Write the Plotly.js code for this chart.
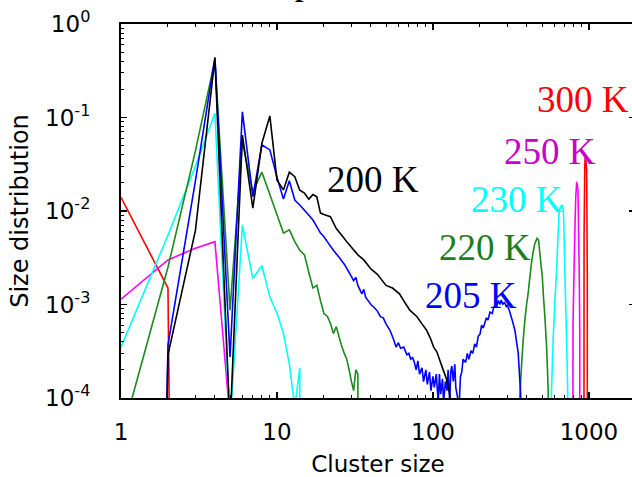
<!DOCTYPE html>
<html>
<head>
<meta charset="utf-8">
<script src="https://cdn.plot.ly/plotly-3.0.1.min.js"></script>
<style>
html, body { margin: 0; padding: 0; overflow: hidden; background: #fff; }
#chart { width: 640px; height: 477px; }
</style>
</head>
<body>
<div id="chart"></div>
<script>
// value used where the distribution is empty (0) – drawn far below the axis
const ZERO = 1e-30;

// ---- 200 K (black) ----
const s200 = [1, 2, 3, 4, 5, 6, 7, 8, 9, 10,
  11, 12, 13, 14, 15, 16, 17, 18, 19, 20,
  22, 24, 26, 28, 30, 33, 36, 40, 44, 50,
  55, 61, 66, 71, 79, 85, 91, 96, 101, 106,
  110, 115, 122, 128, 132, 136];
const v200 = [ZERO, 2.9e-4, 6.2e-3, 0.43, 5e-5, 0.065, 0.0107, 0.053, 0.104, 0.0214,
  0.0168, 0.026, 0.0233, 0.0167, 0.0155, 0.0134, 0.015, 0.0142, 0.0095, 0.0092,
  0.0087, 0.0065, 0.0055, 0.0047, 0.0041, 0.0034, 0.0030, 0.0024, 0.0021, 0.0016,
  0.0015, 0.0013, 0.00105, 8.7e-4, 7.4e-4, 6.2e-4, 5.3e-4, 4.4e-4, 3.5e-4, 3.1e-4,
  2.6e-4, 2.1e-4, 1.6e-4, 1.1e-4, 8e-5, ZERO];

// ---- 205 K (blue) ----
const s205 = [1, 2, 3, 4, 5, 6, 7, 8, 9, 10,
  11, 12, 13, 14, 15, 16, 17, 18, 19, 20,
  21, 23, 25, 27, 29, 31, 32, 33, 35, 36,
  37, 40, 42, 44, 46, 48, 50, 53, 56, 58,
  60, 62, 65, 68, 70, 72, 74, 76, 78, 80,
  82, 85, 87, 90, 92, 95, 97, 100, 102, 105,
  108, 110, 112, 115, 117, 120, 123, 125, 128, 130,
  132, 135, 138, 140, 144, 147, 150, 153, 156, 162,
  166, 170, 175, 180, 185, 190, 195, 200, 205, 210,
  220, 225, 232, 240, 245, 255, 262, 268, 274, 280,
  287, 295, 300, 310, 322, 335, 345, 352, 359, 365,
  372];
const v205 = [ZERO, 3.7e-4, 0.021, 0.44, 2.75e-4, 0.115, 0.0142, 0.051, 0.045, 0.023,
  0.0134, 0.021, 0.0131, 0.0116, 0.0102, 0.009, 0.008, 0.0068, 0.0058, 0.0053,
  0.0047, 0.0038, 0.0032, 0.0027, 0.0022, 0.0018, 0.00195, 0.0016, 0.0013, 0.00145,
  0.0012, 0.0010, 9.3e-4, 8.5e-4, 7.4e-4, 7.2e-4, 6.2e-4, 5.3e-4, 4.2e-4, 3.5e-4,
  3.9e-4, 3.4e-4, 3.5e-4, 2.9e-4, 3.0e-4, 2.6e-4, 2.7e-4, 2.4e-4, 2.0e-4, 2.5e-4,
  1.8e-4, 2.1e-4, 1.5e-4, 2.0e-4, 1.4e-4, 1.9e-4, 1.2e-4, 1.7e-4, 1.3e-4, 1.8e-4,
  9e-5, 1.8e-4, 1.1e-4, 1.6e-4, 9e-5, 1.5e-4, 1.2e-4, 2.0e-4, 9e-5, 1.9e-4,
  2.2e-4, 1.5e-4, 2.3e-4, 1.3e-4, 1.0e-4, 8e-5, 1.7e-4, 1.9e-4, 2.6e-4, 2.4e-4,
  3.0e-4, 2.6e-4, 3.2e-4, 3.0e-4, 3.8e-4, 3.5e-4, 4.6e-4, 4.8e-4, 6.0e-4, 5.6e-4,
  7.2e-4, 6.8e-4, 8.3e-4, 8.0e-4, 9.4e-4, 9.6e-4, 1.1e-3, 1.0e-3, 1.12e-3, 1.0e-3,
  1.06e-3, 9.5e-4, 9.8e-4, 8.4e-4, 6.8e-4, 5.3e-4, 3.8e-4, 3.0e-4, 1.7e-4, 1.1e-4,
  ZERO];

// ---- 220 K (green) ----
const s220 = [1, 2, 3, 4, 5, 6, 7, 8, 9, 10,
  11, 12, 13, 14, 15, 16, 17, 18, 19, 20,
  21, 22, 23, 24, 25, 26, 27, 28, 29, 30,
  31, 32, 33, 34, 350, 360, 368, 378, 388, 398,
  407, 417, 427, 438, 450, 465, 475, 482, 492, 502,
  511, 520, 535, 548, 560];
const v220 = [3.7e-5, 0.0025, 0.044, 0.41, 8.7e-4, 0.055, 0.016, 0.026, 0.015, 0.0091,
  0.0058, 0.0063, 0.0047, 0.0038, 0.0034, 0.0022, 0.0015, 0.0016, 0.0011, 8e-4,
  7.5e-4, 6.3e-4, 4.9e-4, 5.8e-4, 4.5e-4, 3.6e-4, 3.0e-4, 2.6e-4, 2.0e-4, 1.5e-4,
  1.2e-4, 2.0e-4, 1.8e-4, ZERO, ZERO, 1.0e-4, 2.0e-4, 4e-4, 6.8e-4, 1.0e-3,
  1.3e-3, 1.9e-3, 2.7e-3, 3.6e-3, 4.5e-3, 5.1e-3, 4.9e-3, 3.8e-3, 2.7e-3, 2.0e-3,
  1.2e-3, 8e-4, 3.5e-4, 1.2e-4, ZERO];

// ---- 230 K (cyan) ----
const s230 = [1, 2, 3, 4, 5, 6, 7, 8, 9, 10,
  11, 12, 13, 14, 15, 555, 575, 590, 605, 620,
  632, 643, 655, 670, 686, 693, 700, 710, 718, 730,
  742];
const v230 = [3.5e-4, 0.0055, 0.030, 0.111, 5e-5, 0.0071, 0.0019, 0.0026, 0.0012, 8.1e-4,
  4.9e-4, 2.3e-4, 8e-5, 2.1e-4, ZERO, ZERO, 1.2e-4, 4.5e-4, 1.1e-3, 2.3e-3,
  5e-3, 9.5e-3, 0.011, 0.0116, 0.0102, 0.005, 0.0023, 9e-4, 4.5e-4, 1.3e-4,
  ZERO];

// ---- 250 K (magenta) ----
const s250 = [1, 2, 3, 4, 5, 6, 770, 790, 802, 815,
  823, 834, 845, 850, 858, 866, 873, 884];
const v250 = [0.00114, 0.0030, 0.0040, 0.0047, 6e-5, ZERO, ZERO, 6e-4, 2.3e-3, 8e-3,
  0.0142, 0.0205, 0.018, 0.0167, 6e-3, 2.3e-3, 5e-4, ZERO];

// ---- 300 K (red) ----
const s300 = [1, 2, 3, 912, 930, 940, 946, 956, 966, 975, 990];
const v300 = [0.014, 0.0015, ZERO, ZERO, 5.3e-3, 0.030, 0.038, 0.035, 0.027, 2.3e-3, ZERO];

// ticks and labels
const xTickVals = [1, 10, 100, 1000];
const xTickText = ['1', '10', '100', '1000'];
const yTickVals = [1e-4, 1e-3, 1e-2, 1e-1, 1];
const yTickText = ['10<sup>-4</sup>', '10<sup>-3</sup>', '10<sup>-2</sup>', '10<sup>-1</sup>', '10<sup>0</sup>'];

const seriesNames = ['300 K', '250 K', '230 K', '220 K', '205 K', '200 K'];
const lineColors = ['#ff0000', '#ff00ff', '#00ffff', '#1b8a1b', '#0000ff', '#000000'];
const labelColors = ['#ff0000', '#c800c8', '#00ffff', '#1b7d1b', '#0000ff', '#000000'];
const xs = [s300, s250, s230, s220, s205, s200];
const ys = [v300, v250, v230, v220, v205, v200];

// label placement (paper coordinates)
const labelPos = [[0.899, 0.799], [0.835, 0.658], [0.770, 0.530], [0.708, 0.402], [0.680, 0.274], [0.490, 0.583]];

function minorTicks(lo, hi) {
  const out = [];
  for (let d = lo; d < hi; d++) {
    for (let k = 2; k <= 9; k++) out.push(k * Math.pow(10, d));
  }
  return out;
}

const traces = xs.map((x, i) => ({
  x: x, y: ys[i], type: 'scatter', mode: 'lines', name: seriesNames[i],
  line: { color: lineColors[i], width: 1.6, simplify: false },
  hoverinfo: 'skip'
}));

const annotations = seriesNames.map((t, i) => ({
  text: t, xref: 'paper', yref: 'paper', x: labelPos[i][0], y: labelPos[i][1],
  xanchor: 'center', yanchor: 'middle', showarrow: false,
  font: { family: 'Liberation Serif', size: 37, color: labelColors[i] }
}));

// cut-off title remnant at the very top edge (the reference shows it clipped)
annotations.push({
  text: '<b>p</b>', xref: 'paper', yref: 'paper', x: 0.356, y: 1.053,
  xanchor: 'center', yanchor: 'bottom', showarrow: false,
  font: { family: 'Liberation Serif', size: 30, color: '#000' }
});

const axisCommon = {
  type: 'log', showgrid: false, zeroline: false,
  showline: true, linewidth: 2, linecolor: '#000', mirror: 'ticks',
  ticks: 'inside', ticklen: 6, tickwidth: 1.5, tickcolor: '#000',
  tickmode: 'array'
};

const layout = {
  width: 640, height: 477,
  margin: { l: 121, r: 5, t: 24, b: 79 },
  paper_bgcolor: '#fff', plot_bgcolor: '#fff',
  showlegend: false,
  font: { family: 'DejaVu Sans', size: 23, color: '#000' },
  xaxis: Object.assign({}, axisCommon, {
    range: [0, 3.295],
    tickvals: xTickVals, ticktext: xTickText,
    ticklabelstandoff: 12,
    minor: { tickmode: 'array', tickvals: minorTicks(0, 4), ticks: 'inside', ticklen: 3, tickwidth: 1, tickcolor: '#000', showgrid: false },
    title: { text: 'Cluster size', font: { size: 23 }, standoff: 16 }
  }),
  yaxis: Object.assign({}, axisCommon, {
    range: [-4, 0],
    tickvals: yTickVals, ticktext: yTickText,
    ticklabelstandoff: 24,
    minor: { tickmode: 'array', tickvals: minorTicks(-4, 0), ticks: 'inside', ticklen: 3, tickwidth: 1, tickcolor: '#000', showgrid: false },
    title: { text: 'Size distribution', font: { size: 24 }, standoff: 10 }
  }),
  annotations: annotations
};

Plotly.newPlot('chart', traces, layout, { staticPlot: true, displayModeBar: false });
</script>
</body>
</html>
